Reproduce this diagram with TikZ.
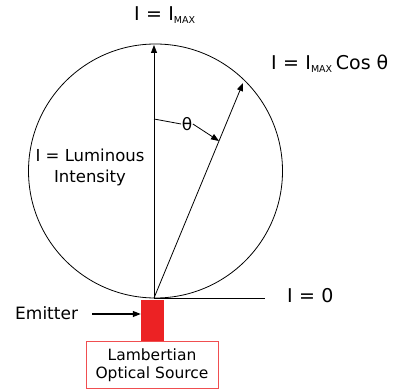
\documentclass[tikz,border=0pt]{standalone}
\usepackage{fontspec}
\setmainfont{DejaVu Sans}
\usetikzlibrary{arrows.meta}
\definecolor{srcred}{RGB}{236,34,36}
\begin{document}
\begin{tikzpicture}[x=1pt,y=-1pt,
  lbl/.style={font=\fontsize{15.5}{18}\selectfont, inner sep=1pt},
  big/.style={font=\fontsize{19}{22}\selectfont, inner sep=1pt},
  ln/.style={line width=0.8pt},
  arr/.style={ln,-{Triangle[length=8pt,width=6pt]}}]
\useasboundingbox (0,0) rectangle (419,390);
\newcommand{\sbx}[1]{\textsubscript{\fontsize{9.5}{10}\selectfont #1}}
% circle
\draw[ln] (155.5,171) circle[radius=127];
% points
\coordinate (O) at (154,298);
\coordinate (T) at (154,45);
\coordinate (P) at (243,83);
\coordinate (A) at (154,119);
\coordinate (B) at (219,141);
% source
\node[fill=srcred, draw=none, minimum width=23, minimum height=41, inner sep=0, anchor=north] (src) at (152.5,299.5) {};
\node[draw=srcred!80, line width=0.8pt, minimum width=132, minimum height=47, inner sep=0, anchor=north, lbl, align=center] (lab) at (152,341) {Lambertian\\Optical Source};
% baseline
\coordinate (H) at (265,298);
\draw[ln] (O) -- (H);
% arrows
\draw[arr] (O) -- (T);
\draw[arr] (O) -- (P);
% theta
\node[lbl, fill=white, inner sep=0.5pt, font=\fontsize{17}{18}\selectfont] (th) at (187,124) {θ};
\draw[ln] (A) -- (th.west);
\draw[arr] (th.east) -- (B);
% labels
\node[big, anchor=west] (tmax) at (133,15) {I\,\,=\,\,I\sbx{MAX}};
\node[big, anchor=west] (tcos) at (270,64) {I\,\,=\,\,I\sbx{MAX}\,Cos θ};
\node[font=\fontsize{16.5}{21}\selectfont, inner sep=1pt, align=center] (lum) at (90,167) {I = Luminous\\Intensity};
\node[big, anchor=west] (zero) at (286,296) {I\,\,=\,\,0};
\node[font=\fontsize{17}{20}\selectfont, inner sep=1pt, anchor=west] (emit) at (14,313) {Emitter};
\draw[ln,-{Triangle[length=8pt,width=6pt]}, line width=1.2pt] (92,314) -- (src.west |- 0,314);
\end{tikzpicture}
\end{document}
